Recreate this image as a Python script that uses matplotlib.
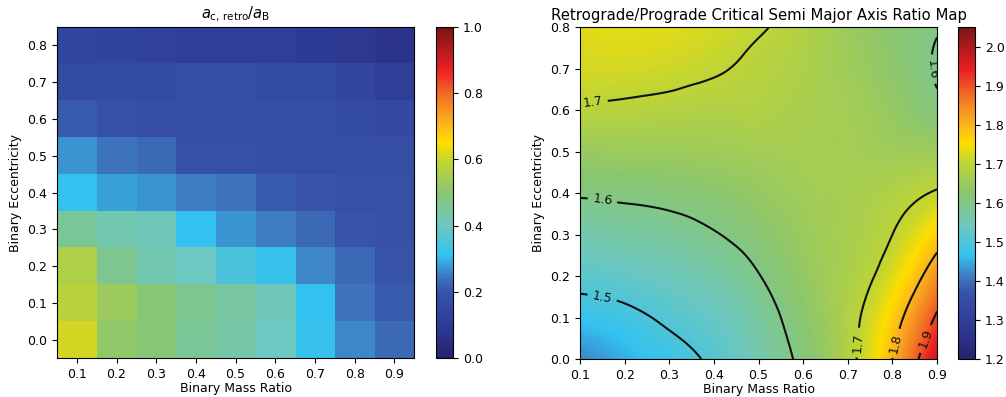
import numpy as np
import matplotlib
matplotlib.use("Agg")
import matplotlib.pyplot as plt
import matplotlib.tri as mtri
from matplotlib.colors import LinearSegmentedColormap

# axis values
mass_ratio = [0.1, 0.2, 0.3, 0.4, 0.5, 0.6, 0.7, 0.8, 0.9]
eccentricity = [0.0, 0.1, 0.2, 0.3, 0.4, 0.5, 0.6, 0.7, 0.8]

# left panel: a_c,retro / a_B, rows = eccentricity, cols = mass ratio
retro_ratio = [
    [0.61, 0.51, 0.49, 0.45, 0.43, 0.40, 0.32, 0.26, 0.23],
    [0.58, 0.53, 0.49, 0.46, 0.44, 0.41, 0.31, 0.24, 0.21],
    [0.56, 0.46, 0.42, 0.40, 0.35, 0.32, 0.26, 0.23, 0.20],
    [0.45, 0.42, 0.41, 0.31, 0.27, 0.25, 0.23, 0.20, 0.19],
    [0.31, 0.285, 0.27, 0.25, 0.24, 0.21, 0.20, 0.19, 0.19],
    [0.27, 0.24, 0.23, 0.19, 0.19, 0.18, 0.18, 0.18, 0.18],
    [0.21, 0.19, 0.18, 0.18, 0.18, 0.18, 0.18, 0.17, 0.16],
    [0.17, 0.17, 0.17, 0.18, 0.18, 0.17, 0.17, 0.15, 0.12],
    [0.15, 0.14, 0.13, 0.12, 0.12, 0.12, 0.10, 0.09, 0.07],
]

# right panel: retrograde/prograde critical a ratio, rows = eccentricity
ratio_map = [
    [1.42, 1.45, 1.48, 1.51, 1.56, 1.612, 1.682, 1.80, 1.98],
    [1.47, 1.485, 1.51, 1.535, 1.575, 1.625, 1.68, 1.77, 1.91],
    [1.52, 1.53, 1.545, 1.565, 1.598, 1.638, 1.672, 1.73, 1.84],
    [1.56, 1.57, 1.58, 1.597, 1.62, 1.648, 1.668, 1.70, 1.77],
    [1.605, 1.61, 1.615, 1.625, 1.64, 1.656, 1.666, 1.68, 1.705],
    [1.645, 1.65, 1.65, 1.655, 1.66, 1.665, 1.663, 1.655, 1.655],
    [1.695, 1.69, 1.685, 1.68, 1.68, 1.67, 1.66, 1.64, 1.612],
    [1.72, 1.72, 1.715, 1.705, 1.69, 1.675, 1.655, 1.63, 1.596],
    [1.73, 1.73, 1.73, 1.72, 1.705, 1.68, 1.65, 1.625, 1.603],
]
contour_levels = [1.5, 1.6, 1.7, 1.8, 1.9]
label_spots = [(0.15, 0.15), (0.15, 0.38), (0.13, 0.61), (0.9, 0.7),
               (0.715, 0.04), (0.8, 0.04), (0.87, 0.05)]

cmap = LinearSegmentedColormap.from_list("retro", [
    (0.00, "#232468"), (0.05, "#2a2f85"), (0.10, "#2e3c95"), (0.15, "#3347a0"),
    (0.20, "#3754a8"), (0.25, "#3f7cc2"), (0.31, "#33c2f0"), (0.40, "#6cc8c0"),
    (0.50, "#8bc66f"), (0.60, "#c5d630"), (0.65, "#ffde00"), (0.71, "#fbb21f"),
    (0.80, "#f26a24"), (0.87, "#ed2024"), (1.00, "#7a1416"),
])

plt.rcParams["font.size"] = 9
fig = plt.figure(figsize=(10.06, 3.97), dpi=100)

# left heatmap
ax1 = fig.add_axes([0.0567, 0.098, 0.355, 0.834])
im1 = ax1.imshow(np.array(retro_ratio), origin="lower", cmap=cmap, vmin=0, vmax=1,
                 extent=[0.05, 0.95, -0.05, 0.85], aspect="auto", interpolation="nearest")
ax1.set_xticks(mass_ratio)
ax1.set_yticks(eccentricity)
ax1.set_xlabel("Binary Mass Ratio", labelpad=1)
ax1.set_ylabel("Binary Eccentricity")
ax1.set_title(r"$a_{\mathrm{c,\,retro}}/a_{\mathrm{B}}$", fontsize=10.5, pad=6)
cax1 = fig.add_axes([0.4334, 0.098, 0.0169, 0.834])
fig.colorbar(im1, cax=cax1, ticks=[0, 0.2, 0.4, 0.6, 0.8, 1.0])

# right continuous map
ax2 = fig.add_axes([0.5765, 0.0957, 0.355, 0.836])
qq, ee = np.meshgrid(mass_ratio, eccentricity)
z = np.array(ratio_map).ravel()
tri = mtri.Triangulation(qq.ravel(), ee.ravel())
refiner = mtri.UniformTriRefiner(tri)
tri_f, z_f = refiner.refine_field(z, triinterpolator=mtri.CubicTriInterpolator(tri, z), subdiv=4)
im2 = ax2.tripcolor(tri_f, z_f, shading="gouraud", cmap=cmap, vmin=1.2, vmax=2.05)
cs = ax2.tricontour(tri_f, z_f, levels=contour_levels, colors="#111111", linewidths=1.5)
ax2.clabel(cs, fmt="%.1f", fontsize=9, inline=True, manual=label_spots)
ax2.set_xlim(0.1, 0.9)
ax2.set_ylim(0.0, 0.8)
ax2.set_xticks(mass_ratio)
ax2.set_yticks(eccentricity)
ax2.set_xlabel("Binary Mass Ratio", labelpad=1)
ax2.set_ylabel("Binary Eccentricity")
ax2.set_title("Retrograde/Prograde Critical Semi Major Axis Ratio Map", fontsize=10.7, pad=5)
cax2 = fig.add_axes([0.9523, 0.0957, 0.0169, 0.836])
fig.colorbar(im2, cax=cax2, ticks=[1.2, 1.3, 1.4, 1.5, 1.6, 1.7, 1.8, 1.9, 2.0])

fig.savefig("out.png", dpi=100)
